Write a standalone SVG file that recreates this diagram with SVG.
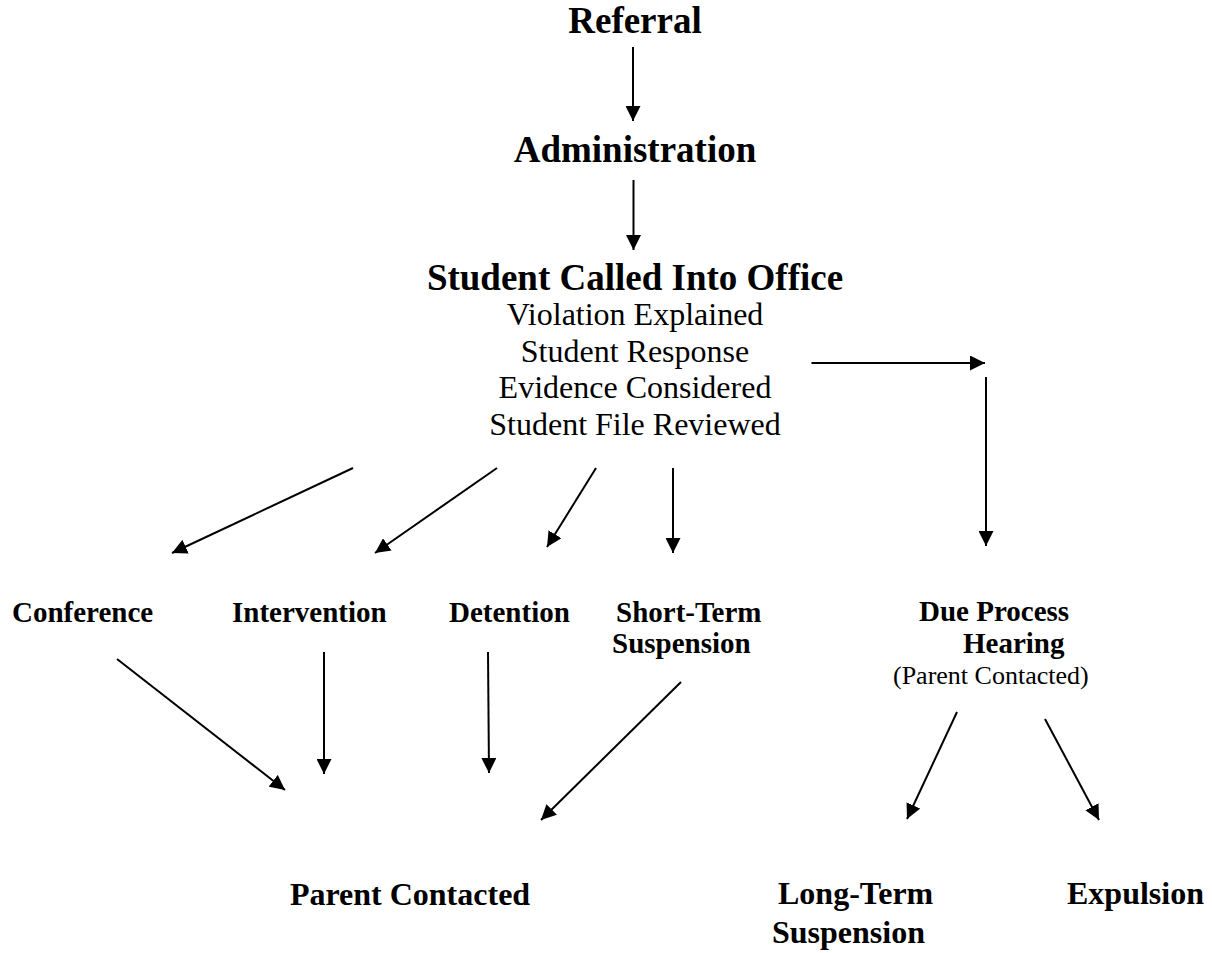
<svg xmlns="http://www.w3.org/2000/svg" width="1212" height="953" viewBox="0 0 1212 953">
<style>
text{font-family:"Liberation Serif","Times New Roman",serif;fill:#000}
.t{font-size:37px;font-weight:bold;text-anchor:middle}
.s{font-size:32px;text-anchor:middle}
.m{font-size:29px;font-weight:bold}
.p{font-size:26px}
.b{font-size:32px;font-weight:bold}
.c line{stroke:#000;stroke-width:2;marker-end:url(#ah)}
</style>
<defs>
<marker id="ah" markerUnits="userSpaceOnUse" markerWidth="16" markerHeight="15" refX="15" refY="7.5" orient="auto">
<path d="M0,0 L15,7.5 L0,15 z" fill="#000"/>
</marker>
</defs>
<rect width="1212" height="953" fill="#fff"/>
<g id="referral"><text class="t" x="635" y="33">Referral</text></g>
<g id="administration"><text class="t" x="635" y="162">Administration</text></g>
<g id="office">
<text class="t" x="635" y="290">Student Called Into Office</text>
<text class="s" x="635" y="325">Violation Explained</text>
<text class="s" x="635" y="362">Student Response</text>
<text class="s" x="635" y="398">Evidence Considered</text>
<text class="s" x="635" y="435">Student File Reviewed</text>
</g>
<g id="conference"><text class="m" x="12" y="622">Conference</text></g>
<g id="intervention"><text class="m" x="232" y="622">Intervention</text></g>
<g id="detention"><text class="m" x="449" y="622">Detention</text></g>
<g id="short-term"><text class="m" x="616" y="622">Short-Term</text><text class="m" x="612" y="653">Suspension</text></g>
<g id="due-process"><text class="m" x="919" y="621">Due Process</text><text class="m" x="963" y="653">Hearing</text><text class="p" x="893" y="684">(Parent Contacted)</text></g>
<g id="parent-contacted"><text class="b" x="410" y="905" text-anchor="middle">Parent Contacted</text></g>
<g id="long-term"><text class="b" x="778" y="904">Long-Term</text><text class="b" x="772" y="943">Suspension</text></g>
<g id="expulsion"><text class="b" x="1067" y="904">Expulsion</text></g>
<g id="connectors" class="c">
<line x1="633" y1="47" x2="633" y2="121"/>
<line x1="633.5" y1="180" x2="633.5" y2="250"/>
<line x1="811.5" y1="363" x2="985" y2="363"/>
<line x1="986" y1="377" x2="986" y2="546"/>
<line x1="353" y1="468" x2="172" y2="553"/>
<line x1="497" y1="468" x2="375" y2="553"/>
<line x1="596" y1="468" x2="547" y2="547"/>
<line x1="673" y1="468" x2="673" y2="553"/>
<line x1="117" y1="659" x2="285" y2="790"/>
<line x1="324" y1="652" x2="324" y2="774"/>
<line x1="488" y1="652" x2="489" y2="773"/>
<line x1="681" y1="682" x2="541" y2="820"/>
<line x1="957" y1="712" x2="907" y2="819"/>
<line x1="1045" y1="719" x2="1099" y2="820"/>
</g>
</svg>
